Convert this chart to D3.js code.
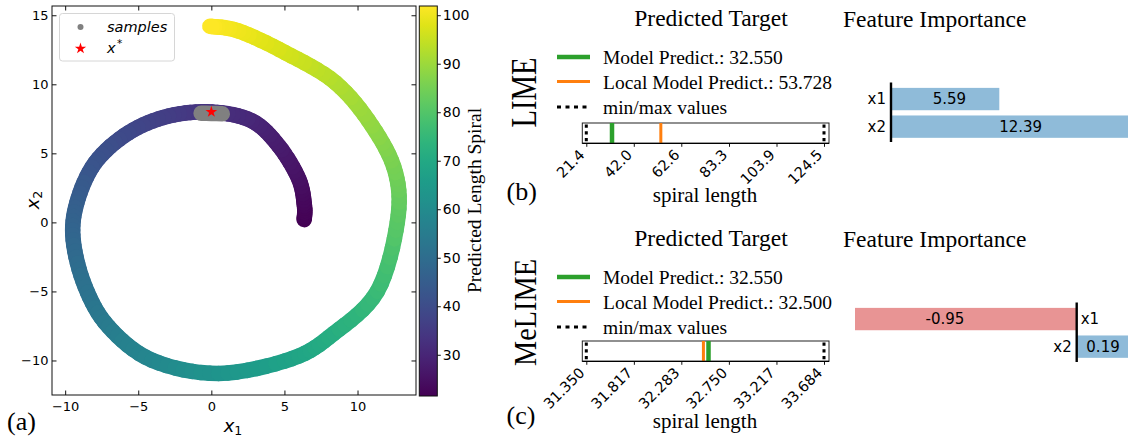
<!DOCTYPE html>
<html>
<head>
<meta charset="utf-8">
<script src="https://cdn.jsdelivr.net/npm/d3@7"></script>
<style>
body{margin:0;background:#fff;}
svg text{font-family:"DejaVu Sans",sans-serif;fill:#000;}
svg text.serif{font-family:"Liberation Serif","Times New Roman",serif;}
</style>
</head>
<body>
<svg></svg>
<script>
// (a) spiral centre line: x1, x2, predicted length
var spiralX   = [6.35, 6.37, 5.99, 4.62, 2.79, 0.05, -2.92, -5.66, -7.95, -9.20, -9.45, -8.63, -7.03, -4.06, 0.50, 5.53, 8.38, 11.35, 12.72, 12.60, 11.00, 8.49, 5.05, 1.87, -0.10];
var spiralY   = [0.20, 1.20, 3.12, 5.53, 7.34, 7.99, 7.70, 6.49, 4.32, 1.42, -1.28, -4.67, -7.56, -9.98, -10.94, -9.86, -8.04, -5.00, 0.00, 3.60, 6.98, 10.12, 12.30, 13.86, 14.20];
var spiralLen = [21.5, 22.5, 24.5, 27.2, 29.8, 32.6, 35.6, 38.6, 41.8, 44.9, 47.6, 51.1, 54.4, 58.2, 62.9, 68.0, 71.4, 75.7, 80.9, 84.5, 88.2, 92.2, 96.3, 99.8, 101.8];
var sampleX = [-0.70, -0.35, 0.00, 0.35, 0.75];
var sampleY = [7.90, 7.90, 7.89, 7.88, 7.86];
var xStar = [0.0, 8.0];
var xTicks = [-10, -5, 0, 5, 10];
var yTicks = [-10, -5, 0, 5, 10, 15];
var cbTicks = [30, 40, 50, 60, 70, 80, 90, 100];
var cbRange = [21.5, 101.9];

// (b) LIME, (c) MeLIME
var modelPredict = 32.550;
var limeLocal = 53.728;
var limeTicks = ["21.4", "42.0", "62.6", "83.3", "103.9", "124.5"];
var melimeLocal = 32.500;
var melimeTicks = ["31.350", "31.817", "32.283", "32.750", "33.217", "33.684"];
var features = ["x1", "x2"];
var limeImportance = [5.59, 12.39];
var melimeImportance = [-0.95, 0.19];

var width = 1128, height = 438;
var svg = d3.select("svg").attr("width", width).attr("height", height);

var greenC = "#2ca02c", orangeC = "#ff7f0e";

// ---------- panel (a) ----------
var L = 52, R = 416, T = 6, B = 395;
var x = d3.scaleLinear().domain([-10.9, 14.0]).range([L, R]);
var y = d3.scaleLinear().domain([-12.5, 15.67]).range([B, T]);
var color = d3.scaleSequential(d3.interpolateViridis).domain(cbRange);

var pts = spiralX.map(function(d, i){ return [x(d), y(spiralY[i]), spiralLen[i]]; });
var band = svg.append("g").attr("stroke-linecap", "round").attr("fill", "none");
// catmull-rom pieces between read points, coloured along the way
for (var i = 0; i < pts.length - 1; i++) {
  var p0 = pts[Math.max(i - 1, 0)], p1 = pts[i], p2 = pts[i + 1], p3 = pts[Math.min(i + 2, pts.length - 1)];
  var c1 = [p1[0] + (p2[0] - p0[0]) / 6, p1[1] + (p2[1] - p0[1]) / 6];
  var c2 = [p2[0] - (p3[0] - p1[0]) / 6, p2[1] - (p3[1] - p1[1]) / 6];
  var steps = 8, prev = [p1[0], p1[1]];
  for (var s = 1; s <= steps; s++) {
    var t = s / steps, u = 1 - t;
    var bx = u*u*u*p1[0] + 3*u*u*t*c1[0] + 3*u*t*t*c2[0] + t*t*t*p2[0];
    var by = u*u*u*p1[1] + 3*u*u*t*c1[1] + 3*u*t*t*c2[1] + t*t*t*p2[1];
    band.append("line")
      .attr("x1", prev[0]).attr("y1", prev[1])
      .attr("x2", bx).attr("y2", by)
      .attr("stroke", color(p1[2] + (t - 0.5 / steps) * (p2[2] - p1[2])))
      .attr("stroke-width", 15.5);
    prev = [bx, by];
  }
}

svg.append("path")
  .attr("d", d3.line()(sampleX.map(function(d, i){ return [x(d), y(sampleY[i])]; })))
  .attr("fill", "none").attr("stroke", "#808080")
  .attr("stroke-width", 15.5).attr("stroke-linecap", "round");

svg.append("path")
  .attr("d", d3.symbol().type(d3.symbolStar).size(42)())
  .attr("transform", "translate(" + x(xStar[0]) + "," + y(xStar[1]) + ")")
  .attr("fill", "red");

svg.append("rect").attr("x", L).attr("y", T).attr("width", R - L).attr("height", B - T)
  .attr("fill", "none").attr("stroke", "#111").attr("stroke-width", 1);

function styleAxis(g, size) {
  g.attr("font-family", "DejaVu Sans").attr("font-size", size);
  g.select(".domain").remove();
  g.selectAll("line").attr("stroke", "#111");
  g.selectAll("text").attr("fill", "#000");
}
svg.append("g").attr("transform", "translate(0," + B + ")")
  .call(d3.axisBottom(x).tickValues(xTicks).tickSizeInner(-4.5).tickSizeOuter(0).tickPadding(6.5))
  .call(styleAxis, 13);
svg.append("g").attr("transform", "translate(0," + T + ")")
  .call(d3.axisTop(x).tickValues(xTicks).tickSizeInner(-4.5).tickSizeOuter(0).tickFormat(""))
  .call(styleAxis, 13);
svg.append("g").attr("transform", "translate(" + L + ",0)")
  .call(d3.axisLeft(y).tickValues(yTicks).tickSizeInner(-4.5).tickSizeOuter(0).tickPadding(3.5))
  .call(styleAxis, 13);
svg.append("g").attr("transform", "translate(" + R + ",0)")
  .call(d3.axisRight(y).tickValues(yTicks).tickSizeInner(-4.5).tickSizeOuter(0).tickFormat(""))
  .call(styleAxis, 13);

// axis labels
var xl = svg.append("text").attr("x", 233).attr("y", 432).attr("text-anchor", "middle").attr("font-size", 18);
xl.append("tspan").attr("font-style", "italic").text("x");
xl.append("tspan").attr("font-size", 12.5).attr("dy", 3).text("1");
var yl = svg.append("text").attr("transform", "translate(39,200) rotate(-90)").attr("text-anchor", "middle").attr("font-size", 18);
yl.append("tspan").attr("font-style", "italic").text("x");
yl.append("tspan").attr("font-size", 12.5).attr("dy", 3).text("2");

// legend
var lg = svg.append("g");
lg.append("rect").attr("x", 59.5).attr("y", 13.5).attr("width", 115).attr("height", 47.5).attr("rx", 3)
  .attr("fill", "#fff").attr("fill-opacity", 0.8).attr("stroke", "#d6d6d6");
lg.append("circle").attr("cx", 80.5).attr("cy", 27).attr("r", 3).attr("fill", "#808080");
lg.append("path").attr("d", d3.symbol().type(d3.symbolStar).size(40)())
  .attr("transform", "translate(80.5,48.5)").attr("fill", "red");
lg.append("text").attr("x", 107).attr("y", 31.5).attr("font-size", 14.5).attr("font-style", "italic").text("samples");
var xs = lg.append("text").attr("x", 107).attr("y", 53).attr("font-size", 14.5).attr("font-style", "italic");
xs.append("tspan").text("x");
xs.append("tspan").attr("font-size", 10.5).attr("dy", -6).attr("dx", 1.5).text("*");

// colorbar
var cbL = 419.3, cbW = 18, cbT = 6, cbB = 396;
var cy = d3.scaleLinear().domain(cbRange).range([cbB, cbT]);
var grad = svg.append("defs").append("linearGradient").attr("id", "vir")
  .attr("x1", 0).attr("y1", 1).attr("x2", 0).attr("y2", 0);
d3.range(0, 1.0001, 0.05).forEach(function(f){
  grad.append("stop").attr("offset", f).attr("stop-color", color(cbRange[0] + f * (cbRange[1] - cbRange[0])));
});
svg.append("rect").attr("x", cbL).attr("y", cbT).attr("width", cbW).attr("height", cbB - cbT)
  .attr("fill", "url(#vir)").attr("stroke", "#111").attr("stroke-width", 1);
svg.append("g").attr("transform", "translate(" + (cbL + cbW) + ",0)")
  .call(d3.axisRight(cy).tickValues(cbTicks).tickSizeInner(3.5).tickSizeOuter(0).tickPadding(2))
  .call(styleAxis, 14);
svg.append("text").attr("class", "serif").attr("transform", "translate(481,200.5) rotate(-90)")
  .attr("text-anchor", "middle").attr("font-size", 19.5).text("Predicted Length Spiral");

svg.append("text").attr("class", "serif").attr("x", 7).attr("y", 430).attr("font-size", 26).text("(a)");

// ---------- panels (b) and (c): predicted target ----------
function targetPanel(top, name, nameSize, nameLen, letter, local, ticks, boxTop, labelY, letterY) {
  var g = svg.append("g").attr("transform", "translate(0," + top + ")");
  g.append("text").attr("class", "serif").attr("x", 711).attr("y", 26)
    .attr("text-anchor", "middle").attr("font-size", 23.5).text("Predicted Target");
  g.append("text").attr("class", "serif").attr("transform", "translate(535.5," + 92.5 + ") rotate(-90)")
    .attr("text-anchor", "middle").attr("font-size", nameSize)
    .attr("textLength", nameLen).attr("lengthAdjust", "spacingAndGlyphs").text(name);
  var rows = [
    {c: greenC, w: 4.5, dash: null, t: "Model Predict.: " + d3.format(".3f")(modelPredict)},
    {c: orangeC, w: 3, dash: null, t: "Local Model Predict.: " + d3.format(".3f")(local)},
    {c: "#000", w: 3, dash: "4,4.5", t: "min/max values"}
  ];
  var ry = [57, 81.5, 107];
  rows.forEach(function(r, i){
    g.append("line").attr("x1", 557).attr("x2", 590).attr("y1", ry[i]).attr("y2", ry[i])
      .attr("stroke", r.c).attr("stroke-width", r.w).attr("stroke-dasharray", r.dash);
    g.append("text").attr("class", "serif").attr("x", 603).attr("y", ry[i] + 7)
      .attr("font-size", 19.5).text(r.t);
  });
  var vals = ticks.map(Number);
  var sx = d3.scaleLinear().domain([vals[0], vals[vals.length - 1]]).range([586.3, 824]);
  var bT = boxTop, bB = boxTop + 20.3;
  g.append("rect").attr("x", 582.3).attr("y", bT).attr("width", 246.7).attr("height", bB - bT)
    .attr("fill", "#fff").attr("stroke", "#222").attr("stroke-width", 1);
  [vals[0], vals[vals.length - 1]].forEach(function(v){
    g.append("line").attr("x1", sx(v)).attr("x2", sx(v)).attr("y1", bT + 1.5).attr("y2", bB)
      .attr("stroke", "#000").attr("stroke-width", 3).attr("stroke-dasharray", "3.3,3.4");
  });
  g.append("line").attr("x1", sx(local)).attr("x2", sx(local)).attr("y1", bT).attr("y2", bB)
    .attr("stroke", orangeC).attr("stroke-width", 3);
  g.append("line").attr("x1", sx(modelPredict)).attr("x2", sx(modelPredict)).attr("y1", bT).attr("y2", bB)
    .attr("stroke", greenC).attr("stroke-width", 4.5);
  var ax = g.append("g").attr("transform", "translate(0," + bB + ")")
    .call(d3.axisBottom(sx).tickValues(vals).tickFormat(function(d, i){ return ticks[i]; })
      .tickSizeInner(3.5).tickSizeOuter(0))
    .call(styleAxis, 14.5);
  ax.append("line").attr("x1", 582.3).attr("x2", 829).attr("stroke", "#000").attr("stroke-width", 1.2);
  ax.selectAll("text").attr("y", 0).attr("dy", 0).attr("x", 0)
    .attr("text-anchor", "end").attr("transform", "translate(-1.2,12.5) rotate(-45)");
  g.append("text").attr("class", "serif").attr("x", 705).attr("y", labelY)
    .attr("text-anchor", "middle").attr("font-size", 21).text("spiral length");
  g.append("text").attr("class", "serif").attr("x", 506.5).attr("y", letterY)
    .attr("font-size", 26).text(letter);
}
targetPanel(0, "LIME", 35, 70, "(b)", limeLocal, limeTicks, 123, 202, 199.5);
targetPanel(220, "MeLIME", 32, 107, "(c)", melimeLocal, melimeTicks, 121, 208, 204);

// ---------- feature importance ----------
svg.append("clipPath").attr("id", "fiClip").append("rect")
  .attr("x", 855).attr("y", 0).attr("width", 273).attr("height", height);

function importancePanel(top, vals, sx, labelShift) {
  var g = svg.append("g").attr("transform", "translate(0," + top + ")");
  g.append("text").attr("class", "serif").attr("x", 843).attr("y", 26.7)
    .attr("font-size", 23.5).text("Feature Importance");
  var by = d3.scaleBand().domain(features).range([86.5, 139.2]).paddingInner(0.19).paddingOuter(0.05);
  var bars = g.append("g").attr("clip-path", "url(#fiClip)");
  features.forEach(function(f, i){
    var v = vals[i];
    bars.append("rect")
      .attr("x", Math.min(sx(0), sx(v))).attr("width", Math.abs(sx(v) - sx(0)))
      .attr("y", by(f)).attr("height", by.bandwidth())
      .attr("fill", v < 0 ? "#e89494" : "#8fbbd9");
    g.append("text").attr("x", sx(v * labelShift)).attr("y", by(f) + by.bandwidth() / 2 + 5.3)
      .attr("text-anchor", "middle").attr("font-size", 15).text(v.toFixed(2));
    g.append("text").attr("x", v < 0 ? sx(0) + 4 : sx(0) - 5).attr("y", by(f) + by.bandwidth() / 2 + 5.2)
      .attr("text-anchor", v < 0 ? "start" : "end").attr("font-size", 15).text(f);
  });
  g.append("line").attr("x1", sx(0)).attr("x2", sx(0)).attr("y1", 82.5).attr("y2", 142)
    .attr("stroke", "#000").attr("stroke-width", 2.4);
}
importancePanel(0, limeImportance, d3.scaleLinear().domain([0, 5.59]).range([891, 999.3]), 0.54);
importancePanel(220, melimeImportance, d3.scaleLinear().domain([0, -0.475]).range([1076.7, 945]), 0.5);
</script>
</body>
</html>
